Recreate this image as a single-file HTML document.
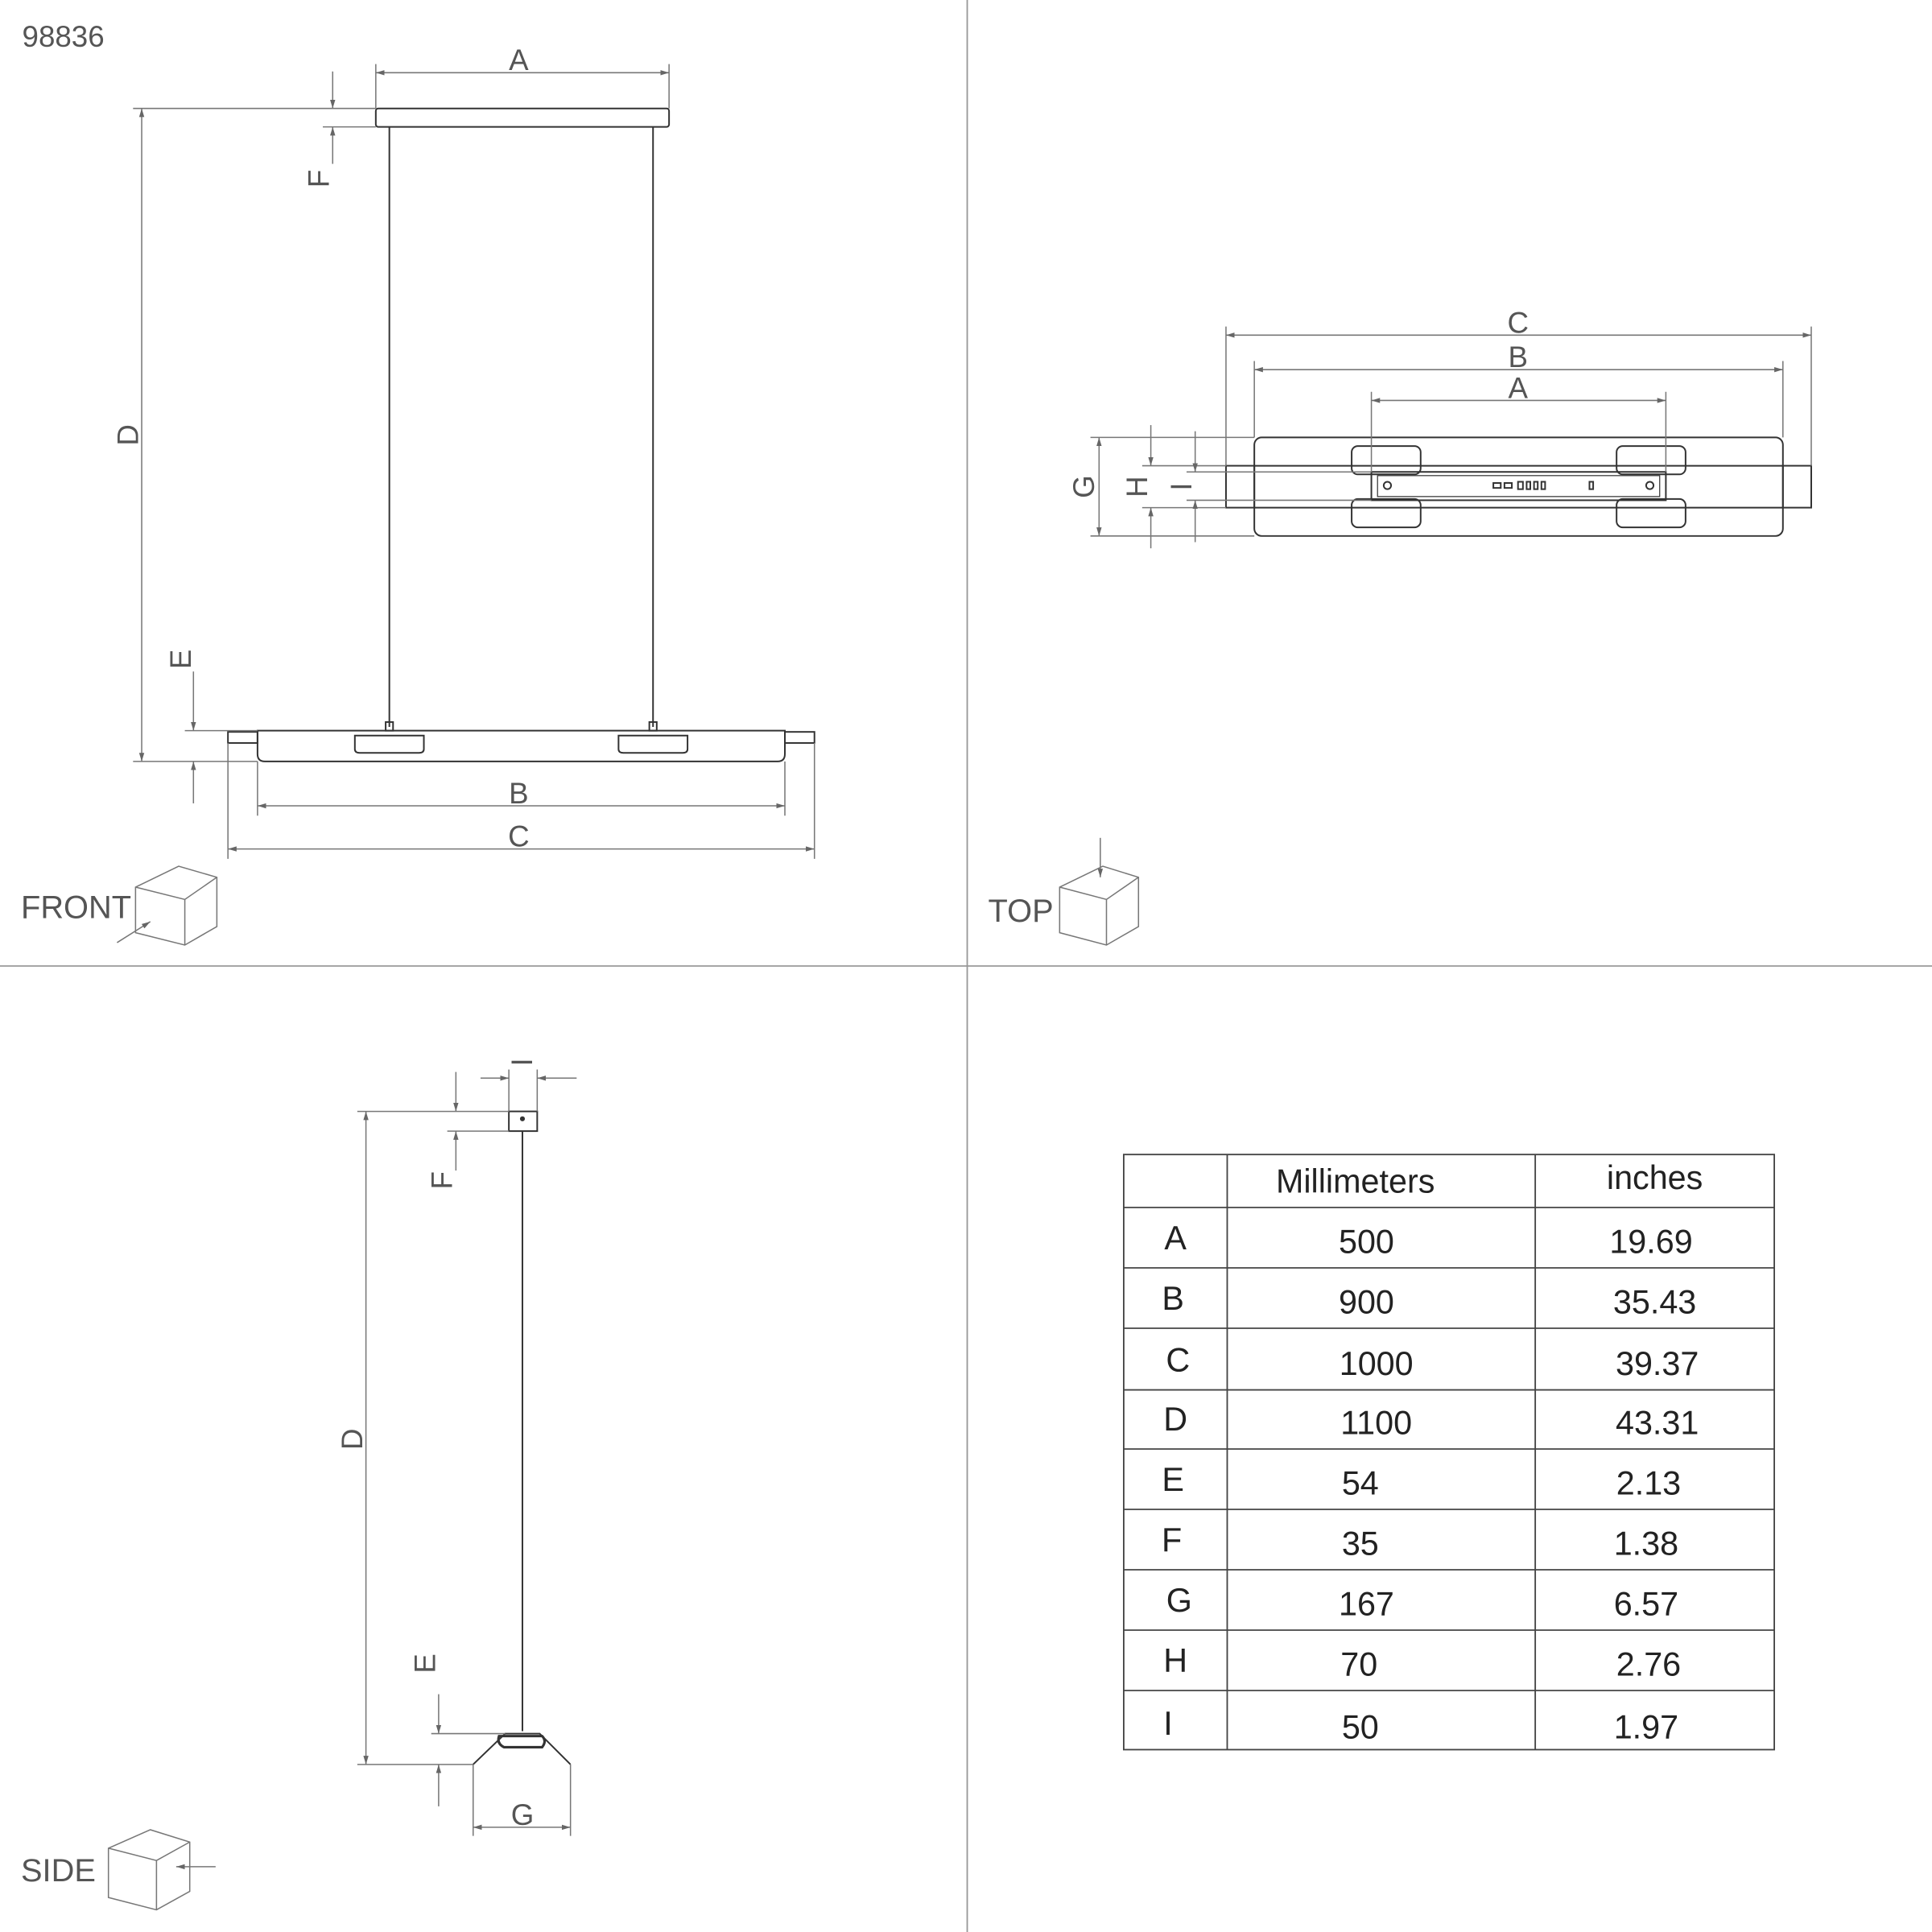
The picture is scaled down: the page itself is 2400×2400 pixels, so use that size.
<!DOCTYPE html>
<html><head><meta charset="utf-8"><style>
html,body{margin:0;padding:0;background:#fff}
svg{display:block}
text{font-family:"Liberation Sans",sans-serif;fill:#555}
</style></head><body>
<svg width="2400" height="2400" viewBox="0 0 1568 1568" xmlns="http://www.w3.org/2000/svg">
<defs>
<marker id="ar" viewBox="0 0 10 10" refX="10" refY="5" markerWidth="7" markerHeight="7" orient="auto-start-reverse"><path d="M0,2 L10,5 L0,8 z" fill="#666"/></marker>
</defs>
<g stroke="#999" stroke-width="1.2">
<line x1="785" y1="0" x2="785" y2="1568"/>
<line x1="0" y1="784" x2="1568" y2="784"/>
</g>
<text x="18" y="38" font-size="24">98836</text>

<!-- FRONT -->
<g fill="none" stroke="#333" stroke-width="1.3">
<rect x="305" y="88" width="238" height="15" rx="2"/>
<line x1="316" y1="103" x2="316" y2="590"/>
<line x1="530" y1="103" x2="530" y2="590"/>
<rect x="313" y="586" width="6" height="7"/><rect x="527" y="586" width="6" height="7"/>
<path d="M209,593 H637 V612 Q637,618 631,618 H215 Q209,618 209,612 Z"/>
<rect x="185" y="594" width="24" height="9"/><rect x="637" y="594" width="24" height="9"/>
<path d="M288,597 H344 V608 Q344,611 340,611 H292 Q288,611 288,608 Z"/>
<path d="M502,597 H558 V608 Q558,611 554,611 H506 Q502,611 502,608 Z"/>
</g>
<g stroke="#777" stroke-width="1" fill="none">
<line x1="305" y1="52" x2="305" y2="88"/><line x1="543" y1="52" x2="543" y2="88"/>
<line x1="305" y1="59" x2="543" y2="59" marker-start="url(#ar)" marker-end="url(#ar)"/>
<line x1="108" y1="88" x2="305" y2="88"/><line x1="108" y1="618" x2="209" y2="618"/>
<line x1="115" y1="88" x2="115" y2="618" marker-start="url(#ar)" marker-end="url(#ar)"/>
<line x1="262" y1="103" x2="305" y2="103"/>
<line x1="270" y1="58" x2="270" y2="88" marker-end="url(#ar)"/>
<line x1="270" y1="133" x2="270" y2="103" marker-end="url(#ar)"/>
<line x1="150" y1="593" x2="209" y2="593"/>
<line x1="157" y1="545" x2="157" y2="593" marker-end="url(#ar)"/>
<line x1="157" y1="652" x2="157" y2="618" marker-end="url(#ar)"/>
<line x1="209" y1="618" x2="209" y2="662"/><line x1="637" y1="618" x2="637" y2="662"/>
<line x1="209" y1="654" x2="637" y2="654" marker-start="url(#ar)" marker-end="url(#ar)"/>
<line x1="185" y1="603" x2="185" y2="697"/><line x1="661" y1="603" x2="661" y2="697"/>
<line x1="185" y1="689" x2="661" y2="689" marker-start="url(#ar)" marker-end="url(#ar)"/>
</g>
<text x="421" y="57" font-size="24" text-anchor="middle">A</text>
<text x="421" y="652" font-size="24" text-anchor="middle">B</text>
<text x="421" y="687" font-size="24" text-anchor="middle">C</text>
<text transform="translate(112,353) rotate(-90)" font-size="24" text-anchor="middle">D</text>
<text transform="translate(267,145) rotate(-90)" font-size="24" text-anchor="middle">F</text>
<text transform="translate(155,535) rotate(-90)" font-size="24" text-anchor="middle">E</text>
<text x="17" y="745" font-size="26">FRONT</text>
<g fill="none" stroke="#777" stroke-width="1">
<path d="M110,720 L145,703 L176,712 L176,752 L150,767 L110,757 Z M110,720 L150,730 L176,712 M150,730 L150,767"/>
<line x1="95" y1="765" x2="122" y2="748" marker-end="url(#ar)"/>
</g>

<!-- TOP -->
<g fill="none" stroke="#333" stroke-width="1.3">
<rect x="1018" y="355" width="429" height="80" rx="6"/>
<rect x="995" y="378" width="23" height="34"/><rect x="1447" y="378" width="23" height="34"/>
<line x1="1018" y1="378" x2="1447" y2="378"/><line x1="1018" y1="412" x2="1447" y2="412"/>
<rect x="1113" y="383" width="239" height="23"/>
<rect x="1118" y="386" width="229" height="17" stroke-width="0.8"/>
<rect x="1097" y="362" width="56" height="23" rx="5"/><rect x="1312" y="362" width="56" height="23" rx="5"/>
<rect x="1097" y="405" width="56" height="23" rx="5"/><rect x="1312" y="405" width="56" height="23" rx="5"/>
<circle cx="1126" cy="394" r="3"/><circle cx="1339" cy="394" r="3"/>
<rect x="1212" y="392" width="6" height="4"/><rect x="1221" y="392" width="6" height="4"/>
<rect x="1232" y="391" width="4" height="6"/><rect x="1239" y="391" width="3" height="6"/><rect x="1245" y="391" width="3" height="6"/><rect x="1251" y="391" width="3" height="6"/>
<rect x="1290" y="391" width="3" height="6"/>
</g>
<g stroke="#777" stroke-width="1" fill="none">
<line x1="995" y1="265" x2="995" y2="378"/><line x1="1470" y1="265" x2="1470" y2="378"/>
<line x1="995" y1="272" x2="1470" y2="272" marker-start="url(#ar)" marker-end="url(#ar)"/>
<line x1="1018" y1="293" x2="1018" y2="355"/><line x1="1447" y1="293" x2="1447" y2="355"/>
<line x1="1018" y1="300" x2="1447" y2="300" marker-start="url(#ar)" marker-end="url(#ar)"/>
<line x1="1113" y1="318" x2="1113" y2="383"/><line x1="1352" y1="318" x2="1352" y2="383"/>
<line x1="1113" y1="325" x2="1352" y2="325" marker-start="url(#ar)" marker-end="url(#ar)"/>
<line x1="885" y1="355" x2="1018" y2="355"/><line x1="885" y1="435" x2="1018" y2="435"/>
<line x1="892" y1="355" x2="892" y2="435" marker-start="url(#ar)" marker-end="url(#ar)"/>
<line x1="927" y1="378" x2="995" y2="378"/><line x1="927" y1="412" x2="995" y2="412"/>
<line x1="934" y1="345" x2="934" y2="378" marker-end="url(#ar)"/>
<line x1="934" y1="445" x2="934" y2="412" marker-end="url(#ar)"/>
<line x1="963" y1="383" x2="1113" y2="383"/><line x1="963" y1="406" x2="1113" y2="406"/>
<line x1="970" y1="350" x2="970" y2="383" marker-end="url(#ar)"/>
<line x1="970" y1="440" x2="970" y2="406" marker-end="url(#ar)"/>
</g>
<text x="1232" y="270" font-size="24" text-anchor="middle">C</text>
<text x="1232" y="298" font-size="24" text-anchor="middle">B</text>
<text x="1232" y="323" font-size="24" text-anchor="middle">A</text>
<text transform="translate(888,395) rotate(-90)" font-size="24" text-anchor="middle">G</text>
<text transform="translate(931,395) rotate(-90)" font-size="24" text-anchor="middle">H</text>
<text transform="translate(967,395) rotate(-90)" font-size="24" text-anchor="middle">I</text>
<text x="802" y="748" font-size="26">TOP</text>
<g fill="none" stroke="#777" stroke-width="1">
<path d="M860,720 L895,703 L924,712 L924,752 L898,767 L860,757 Z M860,720 L898,730 L924,712 M898,730 L898,767"/>
<line x1="893" y1="680" x2="893" y2="712" marker-end="url(#ar)"/>
</g>

<!-- SIDE -->
<g fill="none" stroke="#333" stroke-width="1.3">
<rect x="413" y="902" width="23" height="16"/>
<line x1="424" y1="918" x2="424" y2="1405"/>
<path d="M384,1432 L410,1407 L438,1407 L463,1432"/>
<path d="M405,1409 H440 Q444,1413 440,1418 H409 Q403,1415 405,1409 Z" stroke-width="2"/>
</g>
<circle cx="424" cy="908" r="2" fill="#333"/>
<g stroke="#777" stroke-width="1" fill="none">
<line x1="413" y1="868" x2="413" y2="902"/><line x1="436" y1="868" x2="436" y2="902"/>
<line x1="390" y1="875" x2="413" y2="875" marker-end="url(#ar)"/>
<line x1="468" y1="875" x2="436" y2="875" marker-end="url(#ar)"/>
<line x1="290" y1="902" x2="413" y2="902"/><line x1="290" y1="1432" x2="384" y2="1432"/>
<line x1="297" y1="902" x2="297" y2="1432" marker-start="url(#ar)" marker-end="url(#ar)"/>
<line x1="363" y1="918" x2="413" y2="918"/>
<line x1="370" y1="870" x2="370" y2="902" marker-end="url(#ar)"/>
<line x1="370" y1="950" x2="370" y2="918" marker-end="url(#ar)"/>
<line x1="350" y1="1407" x2="410" y2="1407"/>
<line x1="356" y1="1375" x2="356" y2="1407" marker-end="url(#ar)"/>
<line x1="356" y1="1466" x2="356" y2="1432" marker-end="url(#ar)"/>
<line x1="384" y1="1432" x2="384" y2="1490"/><line x1="463" y1="1432" x2="463" y2="1490"/>
<line x1="384" y1="1483" x2="463" y2="1483" marker-start="url(#ar)" marker-end="url(#ar)"/>
</g>
<text transform="translate(432,862) rotate(-90)" font-size="24" text-anchor="middle">I</text>
<text transform="translate(367,958) rotate(-90)" font-size="24" text-anchor="middle">F</text>
<text transform="translate(294,1168) rotate(-90)" font-size="24" text-anchor="middle">D</text>
<text transform="translate(353,1350) rotate(-90)" font-size="24" text-anchor="middle">E</text>
<text x="424" y="1481" font-size="24" text-anchor="middle">G</text>
<text x="17" y="1527" font-size="26">SIDE</text>
<g fill="none" stroke="#777" stroke-width="1">
<path d="M88,1500 L122,1485 L154,1495 L154,1535 L127,1550 L88,1540 Z M88,1500 L127,1510 L154,1495 M127,1510 L127,1550"/>
<line x1="175" y1="1515" x2="143" y2="1515" marker-end="url(#ar)"/>
</g>

<!-- TABLE -->
<g fill="none" stroke="#444" stroke-width="1.2">
<rect x="912" y="937" width="528" height="483"/>
<line x1="996" y1="937" x2="996" y2="1420"/><line x1="1246" y1="937" x2="1246" y2="1420"/>
<line x1="912" y1="980" x2="1440" y2="980"/><line x1="912" y1="1029" x2="1440" y2="1029"/>
<line x1="912" y1="1078" x2="1440" y2="1078"/><line x1="912" y1="1128" x2="1440" y2="1128"/>
<line x1="912" y1="1176" x2="1440" y2="1176"/><line x1="912" y1="1225" x2="1440" y2="1225"/>
<line x1="912" y1="1274" x2="1440" y2="1274"/><line x1="912" y1="1323" x2="1440" y2="1323"/>
<line x1="912" y1="1372" x2="1440" y2="1372"/>
</g>
<g font-size="27" style="fill:#222">
<text x="1100" y="968" text-anchor="middle" style="fill:#222">Millimeters</text>
<text x="1343" y="965" text-anchor="middle" style="fill:#222">inches</text>
</g>
<g font-size="27" text-anchor="middle">
<text x="954" y="1014" style="fill:#222">A</text><text x="1109" y="1017" style="fill:#222">500</text><text x="1340" y="1017" style="fill:#222">19.69</text>
<text x="952" y="1063" style="fill:#222">B</text><text x="1109" y="1066" style="fill:#222">900</text><text x="1343" y="1066" style="fill:#222">35.43</text>
<text x="956" y="1113" style="fill:#222">C</text><text x="1117" y="1116" style="fill:#222">1000</text><text x="1345" y="1116" style="fill:#222">39.37</text>
<text x="954" y="1161" style="fill:#222">D</text><text x="1117" y="1164" style="fill:#222">1100</text><text x="1345" y="1164" style="fill:#222">43.31</text>
<text x="952" y="1210" style="fill:#222">E</text><text x="1104" y="1213" style="fill:#222">54</text><text x="1338" y="1213" style="fill:#222">2.13</text>
<text x="951" y="1259" style="fill:#222">F</text><text x="1104" y="1262" style="fill:#222">35</text><text x="1336" y="1262" style="fill:#222">1.38</text>
<text x="957" y="1308" style="fill:#222">G</text><text x="1109" y="1311" style="fill:#222">167</text><text x="1336" y="1311" style="fill:#222">6.57</text>
<text x="954" y="1357" style="fill:#222">H</text><text x="1103" y="1360" style="fill:#222">70</text><text x="1338" y="1360" style="fill:#222">2.76</text>
<text x="948" y="1408" style="fill:#222">I</text><text x="1104" y="1411" style="fill:#222">50</text><text x="1336" y="1411" style="fill:#222">1.97</text>
</g>
</svg>
</body></html>
